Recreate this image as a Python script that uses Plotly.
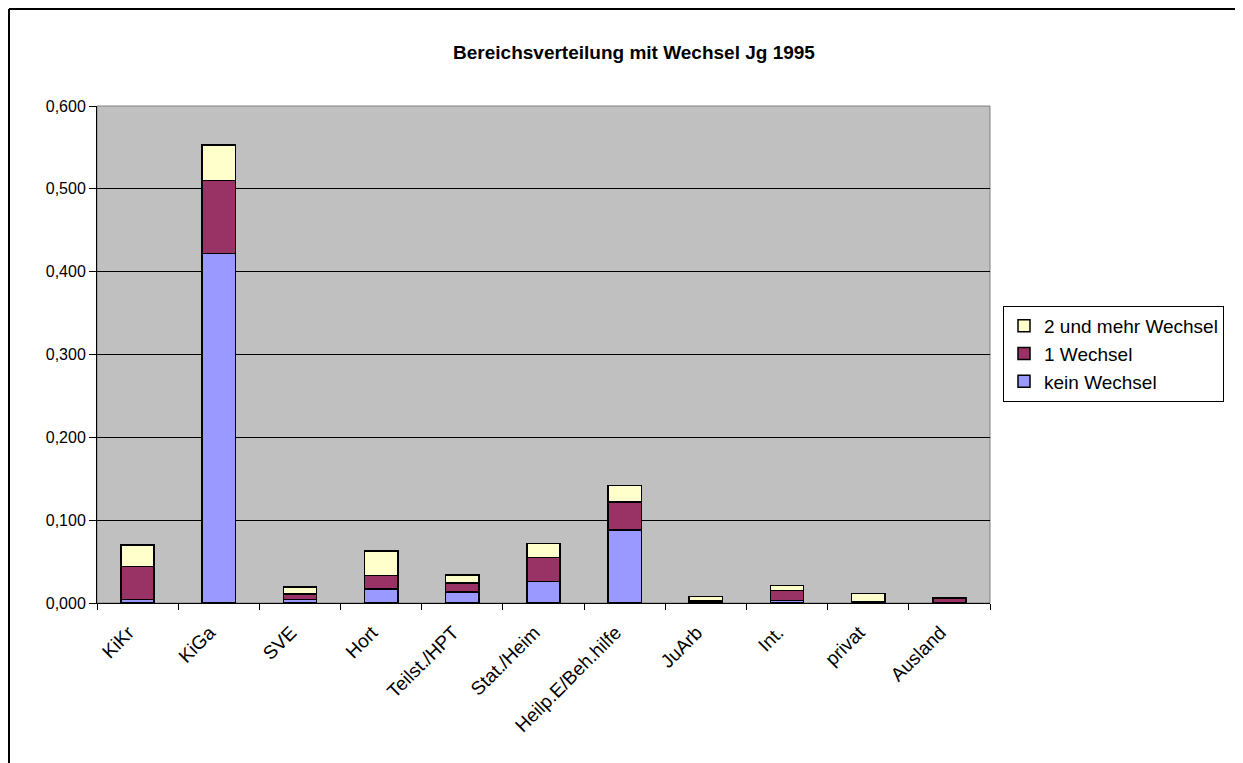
import plotly.graph_objects as go

categories = ["KiKr", "KiGa", "SVE", "Hort", "Teilst./HPT", "Stat./Heim",
              "Heilp.E/Beh.hilfe", "JuArb", "Int.", "privat", "Ausland"]
kein_wechsel = [0.004, 0.422, 0.004, 0.017, 0.013, 0.026, 0.088, 0.0003, 0.003, 0.0005, 0.0008]
ein_wechsel = [0.040, 0.088, 0.007, 0.016, 0.011, 0.029, 0.034, 0.002, 0.012, 0.0012, 0.0045]
zwei_mehr = [0.026, 0.043, 0.0085, 0.030, 0.010, 0.017, 0.020, 0.0058, 0.006, 0.010, 0.0006]
y_ticks = [0.0, 0.1, 0.2, 0.3, 0.4, 0.5, 0.6]

FONT = "Liberation Sans, Arial, sans-serif"
line = dict(color="black", width=1.5)

W, H = 1235, 755
L, T, PW, PH = 89, 98, 893, 497


def px(fx):
    return (fx - L) / PW


def py(fy):
    return (T + PH - fy) / PH


fig = go.Figure()
fig.add_trace(go.Bar(x=categories, y=kein_wechsel, name="kein Wechsel",
                     marker=dict(color="#9999FF", line=line)))
fig.add_trace(go.Bar(x=categories, y=ein_wechsel, name="1 Wechsel",
                     marker=dict(color="#993366", line=line)))
fig.add_trace(go.Bar(x=categories, y=zwei_mehr, name="2 und mehr Wechsel",
                     marker=dict(color="#FFFFCC", line=line)))

fig.update_layout(
    width=W, height=H,
    barmode="stack", bargap=0.59,
    paper_bgcolor="white", plot_bgcolor="#C0C0C0",
    separators=", ",
    margin=dict(l=L, r=W - L - PW, t=T, b=H - T - PH, autoexpand=False),
    font=dict(family=FONT, size=16, color="black"),
    title=dict(text="<b>Bereichsverteilung mit Wechsel Jg 1995</b>",
               x=(634 - 8) / W, xanchor="center", y=1 - 44 / H, yanchor="middle",
               font=dict(size=19, family=FONT)),
    legend=dict(x=px(1003 - 8), xanchor="left", y=py(354 - 8), yanchor="middle",
                traceorder="reversed", bordercolor="black", borderwidth=1,
                bgcolor="white", font=dict(size=19, family=FONT),
                itemwidth=30),
    showlegend=True,
)
fig.update_xaxes(showline=True, linecolor="black", linewidth=1,
                 ticks="outside", tickson="boundaries", ticklen=6, tickcolor="black",
                 tickangle=-45, tickfont=dict(size=19), showgrid=False,
                 ticklabelstandoff=10, ticklabelshift=-9)
fig.update_yaxes(range=[0, 0.6], tickvals=y_ticks, tickformat=".3f",
                 showline=True, linecolor="black", linewidth=1,
                 ticks="outside", ticklen=7, tickcolor="black",
                 showgrid=True, gridcolor="black", gridwidth=1,
                 tickfont=dict(size=16), zeroline=False)

# plot area border (grey)
fig.add_shape(type="rect", xref="paper", yref="paper", x0=0, x1=1, y0=0, y1=1,
              line=dict(color="#808080", width=1), layer="below")
# outer chart frame
frame = dict(color="black", width=2)
fx0, fx1, fy0, fy1 = 1, 1229, 1, H + 5
fig.add_shape(type="line", xref="paper", yref="paper",
              x0=px(fx0), x1=px(fx1), y0=py(fy0), y1=py(fy0), line=frame)
fig.add_shape(type="line", xref="paper", yref="paper",
              x0=px(fx0), x1=px(fx0), y0=py(fy0), y1=py(fy1), line=frame)
fig.add_shape(type="line", xref="paper", yref="paper",
              x0=px(fx1), x1=px(fx1), y0=py(fy0), y1=py(fy1), line=frame)

fig.write_html("out.html")
